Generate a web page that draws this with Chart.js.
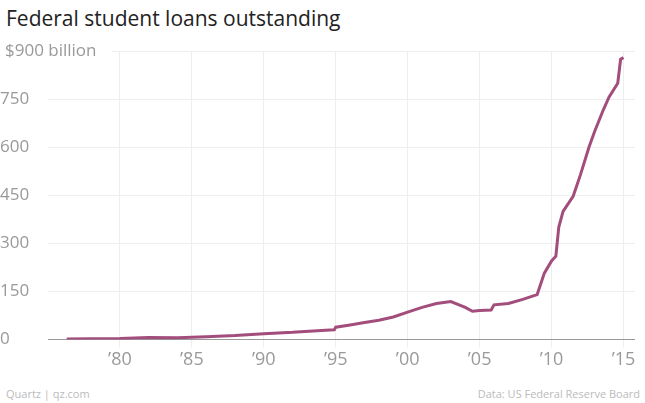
<!DOCTYPE html>
<html><head><meta charset="utf-8">
<script src="https://cdn.jsdelivr.net/npm/chart.js@4"></script>
<style>
body{margin:0;background:#fff;font-family:"Open Sans",sans-serif;width:645px;height:403px;position:relative;overflow:hidden}
#title{position:absolute;left:6px;top:4px;font-size:21px;color:#222}
#wrap{position:absolute;left:0;top:38px;width:645px;height:335px}
.foot{position:absolute;top:386px;font-size:11px;color:#bbb}
</style></head><body>
<div id="title">Federal student loans outstanding</div>
<div id="wrap"><canvas id="c"></canvas></div>
<div class="foot" style="left:6px">Quartz | qz.com</div>
<div class="foot" style="right:5px">Data: US Federal Reserve Board</div>
<script>
const years = [1976.3,1978,1980,1982,1984,1986,1988,1990,1992,1994,1994.9,1995,1996,1997,1998,1999,2000,2001,2002,2003,2004,2004.5,2005,2005.8,2006,2007,2008,2009,2009.5,2010,2010.3,2010.5,2010.8,2011.5,2012,2012.6,2013,2013.6,2014,2014.6,2014.8,2015];
const loans = [1,2,3,6,5,8,12,18,22,28,30,38,45,53,60,70,85,100,112,118,100,88,90,92,108,112,125,140,207,245,260,350,400,447,513,600,650,717,757,800,875,880];
const yTicks = [0,150,300,450,600,750,900];
const xTicks = [1980,1985,1990,1995,2000,2005,2010,2015];

// the top tick label is wider than the axis, so draw it on top of the chart
const topLabel = {
    id: "topLabel",
    afterDraw(chart) {
        const { ctx, scales: { y } } = chart;
        ctx.save();
        ctx.font = "17px 'Open Sans'";
        ctx.fillStyle = "#fff";
        ctx.fillRect(0, y.getPixelForValue(900) - 12, 112, 24);
        ctx.fillStyle = "#999";
        ctx.textBaseline = "middle";
        ctx.fillText("$900 billion", 5, y.getPixelForValue(900));
        ctx.restore();
    }
};

new Chart(document.getElementById("c"), {
    type: "line",
    data: {
        datasets: [{
            data: years.map((y, i) => ({ x: y, y: loans[i] })),
            borderColor: "#a24d7c",
            borderWidth: 3,
            pointRadius: 0,
            tension: 0
        }]
    },
    options: {
        responsive: true,
        maintainAspectRatio: false,
        animation: false,
        layout: { padding: { right: 10, top: 8 } },
        plugins: { legend: { display: false }, tooltip: { enabled: false } },
        scales: {
            x: {
                type: "linear",
                min: 1975, max: 2015.8,
                afterBuildTicks: ax => { ax.ticks = xTicks.map(v => ({ value: v })); },
                ticks: {
                    callback: v => "\u2019" + String(v).slice(2),
                    color: "#999", font: { size: 18, family: "Open Sans" }, padding: 2
                },
                grid: { color: "#eee", drawTicks: true, tickLength: 8 },
                border: { display: false }
            },
            y: {
                min: 0, max: 900,
                afterBuildTicks: ax => { ax.ticks = yTicks.map(v => ({ value: v })); },
                afterFit: ax => { ax.width = 48; },
                ticks: {
                    crossAlign: "far",
                    callback: v => v === 900 ? "" : v,
                    color: "#999", font: { size: 17, family: "Open Sans" }
                },
                grid: {
                    color: ctx => ctx.tick && ctx.tick.value === 0 ? "#999" : "#eee",
                    drawTicks: false
                },
                border: { display: false }
            }
        }
    },
    plugins: [topLabel]
});
</script>
</body></html>
